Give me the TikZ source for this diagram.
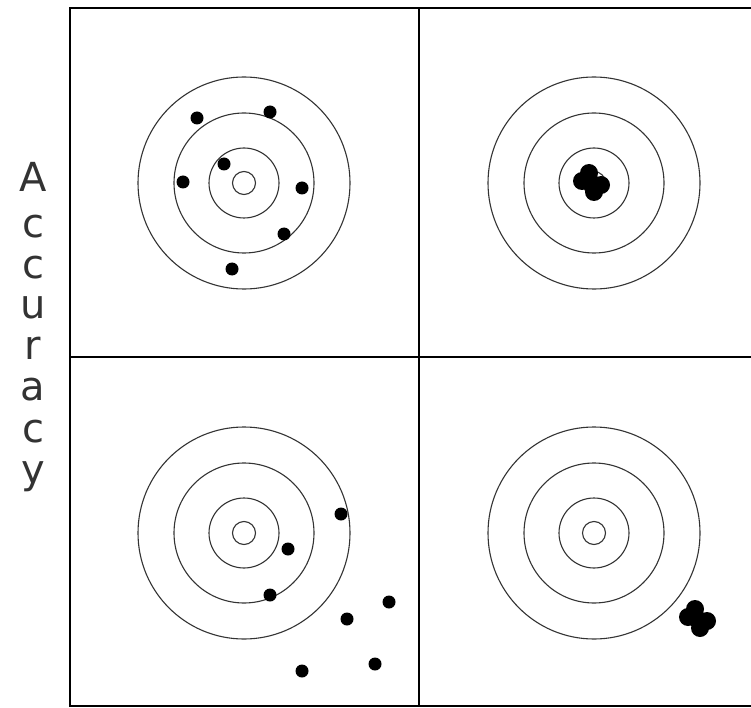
\documentclass[tikz,border=0pt]{standalone}
\usepackage{fontspec}
\newfontfamily\labelfont{DejaVu Sans}
\begin{document}
\begin{tikzpicture}[x=1pt,y=-1pt,
  frame/.style={line width=2pt,black},
  ring/.style={line width=1.1pt,black!80},
  shot/.style={fill=black},
  letter/.style={font=\labelfont\fontsize{40}{42}\selectfont,anchor=base,inner sep=0pt,text=black!80}]
\clip (0,0) rectangle (751,708);
\fill[white] (0,0) rectangle (751,708);
% frame
\draw[frame] (69.5,8.5) rectangle (780,705.5);
\draw[frame] (419,8.5) -- (419,705.5);
\draw[frame] (69.5,357) -- (780,357);
% targets
\foreach \cx/\cy in {244/183, 594/183, 244/533, 594/533}{
  \foreach \r in {11.5,35,70,106}{
    \draw[ring] (\cx,\cy) circle[radius=\r];
  }
}
% top-left shots
\foreach \x/\y in {197/118, 270/112, 224/164, 183/182, 302/188, 284/234, 232/269}{
  \fill[shot] (\x,\y) circle[radius=6.5];
}
% top-right cluster
\foreach \x/\y in {589/173, 582/181, 601/185, 594/192, 591/183}{
  \fill[shot] (\x,\y) circle[radius=9];
}
% bottom-left shots
\foreach \x/\y in {341/514, 288/549, 270/595, 389/602, 347/619, 375/664, 302/671}{
  \fill[shot] (\x,\y) circle[radius=6.5];
}
% bottom-right cluster
\foreach \x/\y in {695/609, 688/617, 707/621, 700/628, 697/619}{
  \fill[shot] (\x,\y) circle[radius=9];
}
% vertical label
\node[letter] (l1) at (33,192) {A};
\node[letter] (l2) at (33,238) {c};
\node[letter] (l3) at (33,278) {c};
\node[letter] (l4) at (33,318) {u};
\node[letter] (l5) at (33,359) {r};
\node[letter] (l6) at (33,400) {a};
\node[letter] (l7) at (33,442) {c};
\node[letter] (l8) at (33,483) {y};
\end{tikzpicture}
\end{document}
